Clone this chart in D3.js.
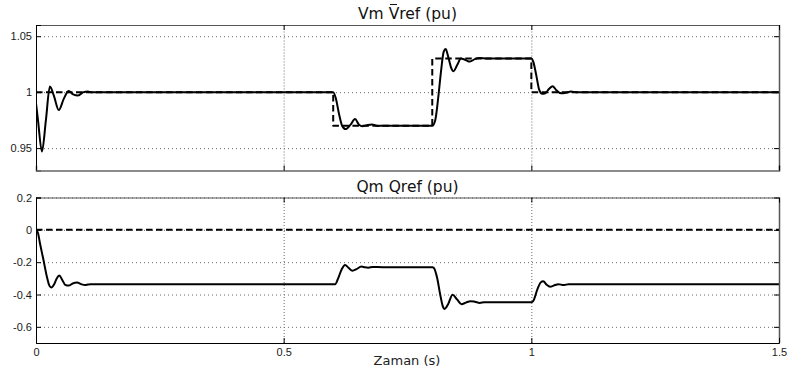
<!DOCTYPE html>
<html><head><meta charset="utf-8">
<script src="https://cdn.jsdelivr.net/npm/d3@7"></script>
<style>
body{margin:0;background:#fff;}
svg{display:block;}
.tick text{font-family:"Liberation Sans",Arial,sans-serif;font-size:11px;fill:#1a1a1a;}
</style></head>
<body><svg id="c" width="788" height="374"></svg>
<script>
// ---- data ----
const xTicks = [0, 0.5, 1, 1.5];
const xTickLabels = ["0", "0.5", "1", "1.5"];
const vTicks = [0.95, 1, 1.05];
const vTickLabels = ["0.95", "1", "1.05"];
const qTicks = [-0.6, -0.4, -0.2, 0, 0.2];
const qTickLabels = ["-0.6", "-0.4", "-0.2", "0", "0.2"];

const vmT = [0, 0.004, 0.012, 0.02, 0.028, 0.036, 0.046, 0.056, 0.066, 0.075, 0.085, 0.096, 0.105, 0.11,
  0.6, 0.605, 0.612, 0.618, 0.625, 0.635, 0.644, 0.652, 0.659, 0.668, 0.678, 0.69, 0.7,
  0.8, 0.806, 0.812, 0.818, 0.823, 0.827, 0.832, 0.838, 0.843, 0.85, 0.858, 0.866, 0.876, 0.886, 0.896, 0.91,
  1.0, 1.004, 1.01, 1.016, 1.022, 1.028, 1.036, 1.043, 1.05, 1.06, 1.07, 1.08, 1.09, 1.5];
const vmV = [0.99, 0.975, 0.947, 0.975, 1.005, 0.997, 0.984, 0.994, 1.001, 0.998, 0.997, 1.0, 1.0005, 1.0,
  1.0, 0.995, 0.98, 0.97, 0.967, 0.971, 0.976, 0.971, 0.9695, 0.9705, 0.9712, 0.9698, 0.97,
  0.97, 0.975, 0.995, 1.02, 1.036, 1.0385, 1.032, 1.022, 1.0187, 1.024, 1.03, 1.029, 1.0273, 1.0295, 1.0305, 1.03,
  1.03, 1.027, 1.015, 1.002, 0.9985, 0.999, 1.003, 1.0053, 1.002, 0.999, 0.9995, 1.0005, 1.0, 1.0];
const vrefT = [0, 0.6, 0.6, 0.8, 0.8, 1.0, 1.0, 1.5];
const vrefV = [1, 1, 0.97, 0.97, 1.03, 1.03, 1, 1];

const qmT = [0, 0.004, 0.008, 0.015, 0.022, 0.027, 0.031, 0.037, 0.042, 0.047, 0.053, 0.059, 0.066, 0.074, 0.083, 0.091, 0.099, 0.105, 0.11,
  0.6, 0.604, 0.61, 0.617, 0.624, 0.631, 0.639, 0.647, 0.657, 0.664, 0.671, 0.68, 0.7,
  0.8, 0.803, 0.81, 0.816, 0.821, 0.825, 0.832, 0.841, 0.85, 0.859, 0.868, 0.877, 0.886, 0.896, 0.905, 0.92,
  1.0, 1.004, 1.012, 1.019, 1.024, 1.031, 1.038, 1.045, 1.055, 1.065, 1.075, 1.5];
const qmV = [0, -0.02, -0.083, -0.185, -0.29, -0.345, -0.357, -0.335, -0.3, -0.282, -0.31, -0.34, -0.345, -0.332, -0.326, -0.336, -0.342, -0.338, -0.336,
  -0.336, -0.336, -0.3, -0.245, -0.217, -0.235, -0.253, -0.243, -0.227, -0.232, -0.234, -0.23, -0.231,
  -0.231, -0.235, -0.3, -0.4, -0.47, -0.489, -0.46, -0.402, -0.43, -0.46, -0.45, -0.441, -0.445, -0.452, -0.448, -0.448,
  -0.448, -0.44, -0.37, -0.325, -0.318, -0.34, -0.352, -0.345, -0.336, -0.342, -0.336, -0.336];
const qrefT = [0, 1.5];
const qrefV = [0, 0];

// ---- layout ----
const svg = d3.select("#c");
const X0 = 36, X1 = 779;
const x = d3.scaleLinear().domain([0, 1.5]).range([X0, X1]);

const panels = [
  {top: 25, bottom: 170.5, domain: [0.93, 1.06], ticks: vTicks, labels: vTickLabels,
   title: "Vm Vref (pu)", titleY: 19, xlabels: false,
   series: [{t: vrefT, v: vrefV, dash: true}, {t: vmT, v: vmV, dash: false}]},
  {top: 197.5, bottom: 343, domain: [-0.7, 0.2], ticks: qTicks, labels: qTickLabels,
   title: "Qm Qref (pu)", titleY: 192, xlabels: true,
   series: [{t: qrefT, v: qrefV, dash: true}, {t: qmT, v: qmV, dash: false}]}
];

panels.forEach((p, pi) => {
  const y = d3.scaleLinear().domain(p.domain).range([p.bottom, p.top]);
  const g = svg.append("g");
  const W = X1 - X0, H = p.bottom - p.top;
  g.append("rect").attr("x", X0).attr("y", p.top).attr("width", W).attr("height", H).attr("fill", "#fff");

  // grid
  const gy = g.append("g").attr("transform", `translate(${X0},0)`)
    .call(d3.axisLeft(y).tickValues(p.ticks).tickSize(-W).tickFormat(""));
  gy.select(".domain").remove();
  gy.selectAll("line").attr("stroke", "#6a6a6a").attr("stroke-dasharray", "1,3");
  const gx = g.append("g").attr("transform", `translate(0,${p.bottom})`)
    .call(d3.axisBottom(x).tickValues([0.5, 1]).tickSize(-H).tickFormat(""));
  gx.select(".domain").remove();
  gx.selectAll("line").attr("stroke", "#6a6a6a").attr("stroke-dasharray", "1,2");

  // lines
  const clipId = "clip" + pi;
  svg.append("clipPath").attr("id", clipId).append("rect")
    .attr("x", X0).attr("y", p.top).attr("width", W).attr("height", H);
  p.series.forEach(s => {
    const pts = s.t.map((t, i) => [t, s.v[i]]);
    const line = d3.line().x(d => x(d[0])).y(d => y(d[1]))
      .curve(s.dash ? d3.curveLinear : d3.curveMonotoneX);
    g.append("path").datum(pts).attr("d", line)
      .attr("clip-path", `url(#${clipId})`)
      .attr("fill", "none").attr("stroke", "#000").attr("stroke-width", 2)
      .attr("stroke-linejoin", "round")
      .attr("stroke-dasharray", s.dash ? "6.5,3.5" : null);
  });

  // frame
  g.append("line").attr("x1", X0).attr("x2", X1).attr("y1", p.top + 0.5).attr("y2", p.top + 0.5).attr("stroke", "#555");
  g.append("line").attr("x1", X1 + 0.5).attr("x2", X1 + 0.5).attr("y1", p.top).attr("y2", p.bottom).attr("stroke", "#555").attr("stroke-width", 1.5);

  // axes with inside ticks
  const ay = g.append("g").attr("transform", `translate(${X0},0)`)
    .call(d3.axisLeft(y).tickValues(p.ticks).tickSize(-5).tickPadding(4)
      .tickFormat((d, i) => p.labels[i]));
  ay.select(".domain").attr("stroke", "#000");
  const ar = g.append("g").attr("transform", `translate(${X1},0)`)
    .call(d3.axisRight(y).tickValues(p.ticks).tickSize(-5).tickFormat(""));
  ar.select(".domain").remove();
  const ab = g.append("g").attr("transform", `translate(0,${p.bottom})`)
    .call(d3.axisBottom(x).tickValues(xTicks).tickSize(-5).tickPadding(5)
      .tickFormat((d, i) => p.xlabels ? xTickLabels[i] : ""));
  ab.select(".domain").attr("stroke", pi === 0 ? "#666" : "#000").attr("stroke-width", pi === 0 ? 1.5 : 1);
  const at = g.append("g").attr("transform", `translate(0,${p.top})`)
    .call(d3.axisTop(x).tickValues(xTicks).tickSize(-5).tickFormat(""));
  at.select(".domain").remove();
  g.selectAll(".tick line").filter(function(){ return this.getAttribute("stroke-dasharray") === null; }).attr("stroke", "#000");

  // title
  g.append("text").attr("x", (X0 + X1) / 2).attr("y", p.titleY)
    .attr("text-anchor", "middle")
    .attr("font-family", "'DejaVu Sans',Verdana,sans-serif").attr("font-size", "15.5px")
    .attr("fill", "#111").text(p.title);
});

// overbar on the "V" of Vref in the top title (as in the reference)
svg.append("line").attr("x1", 390).attr("x2", 397).attr("y1", 4.5).attr("y2", 4.5)
  .attr("stroke", "#111").attr("stroke-width", 1);

// x label
svg.append("text").attr("x", 407).attr("y", 365).attr("text-anchor", "middle")
  .attr("font-family", "'DejaVu Sans',Verdana,sans-serif").attr("font-size", "13px")
  .attr("fill", "#222").text("Zaman (s)");
</script>
</body></html>
